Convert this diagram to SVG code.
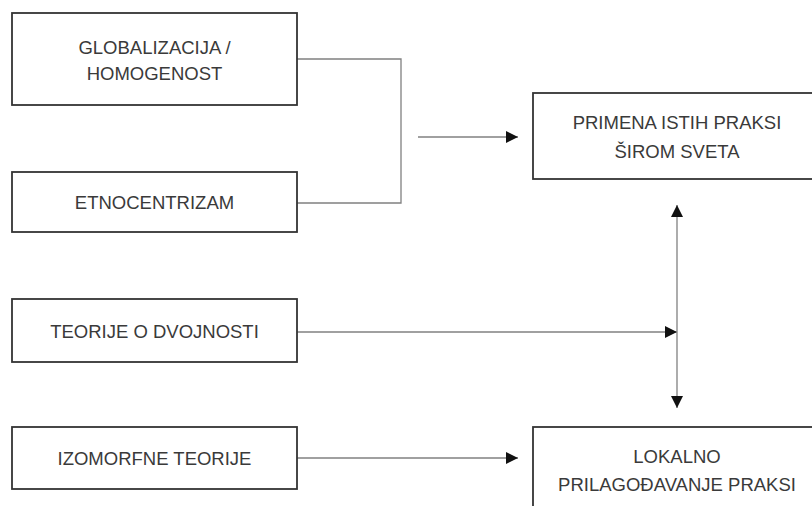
<svg xmlns="http://www.w3.org/2000/svg" width="812" height="506" viewBox="0 0 812 506">
  <defs>
    <style>
      .box { fill: #ffffff; stroke: #333333; stroke-width: 1.8; }
      .lbl { font-family: "Liberation Sans", Arial, sans-serif; font-size: 18.5px; fill: #3a3a3a; text-anchor: middle; }
      .conn { fill: none; stroke: #808080; stroke-width: 1.3; }
    </style>
    <marker id="arr" viewBox="0 0 10 10" refX="10" refY="5" markerWidth="12" markerHeight="12" markerUnits="userSpaceOnUse" orient="auto-start-reverse">
      <path d="M0,0 L10,5 L0,10 Z" fill="#111111"/>
    </marker>
  </defs>
  <rect width="812" height="506" fill="#ffffff"/>

  <g id="connectors">
    <polyline class="conn" points="297,59 401,59 401,203 297,203"/>
    <line class="conn" x1="418" y1="137" x2="518" y2="137" marker-end="url(#arr)"/>
    <line class="conn" x1="297" y1="332" x2="677" y2="332" marker-end="url(#arr)"/>
    <line class="conn" x1="677" y1="205" x2="677" y2="408" marker-start="url(#arr)" marker-end="url(#arr)"/>
    <line class="conn" x1="297" y1="458" x2="518" y2="458" marker-end="url(#arr)"/>
  </g>

  <g id="globalizacija">
    <rect class="box" x="12" y="13" width="285" height="92"/>
    <text class="lbl" x="154.5" y="54">GLOBALIZACIJA /</text>
    <text class="lbl" x="154.5" y="80">HOMOGENOST</text>
  </g>
  <g id="etnocentrizam">
    <rect class="box" x="12" y="172" width="285" height="60"/>
    <text class="lbl" x="154.5" y="209">ETNOCENTRIZAM</text>
  </g>
  <g id="teorije-dvojnosti">
    <rect class="box" x="12" y="299" width="285" height="63"/>
    <text class="lbl" x="154.5" y="338">TEORIJE O DVOJNOSTI</text>
  </g>
  <g id="izomorfne">
    <rect class="box" x="12" y="427" width="285" height="62"/>
    <text class="lbl" x="154.5" y="465">IZOMORFNE TEORIJE</text>
  </g>
  <g id="primena">
    <rect class="box" x="533" y="93" width="290" height="86"/>
    <text class="lbl" x="677" y="129">PRIMENA ISTIH PRAKSI</text>
    <text class="lbl" x="677" y="158">ŠIROM SVETA</text>
  </g>
  <g id="lokalno">
    <rect class="box" x="533" y="427" width="290" height="100"/>
    <text class="lbl" x="677" y="463">LOKALNO</text>
    <text class="lbl" x="677" y="491">PRILAGOĐAVANJE PRAKSI</text>
  </g>
</svg>
